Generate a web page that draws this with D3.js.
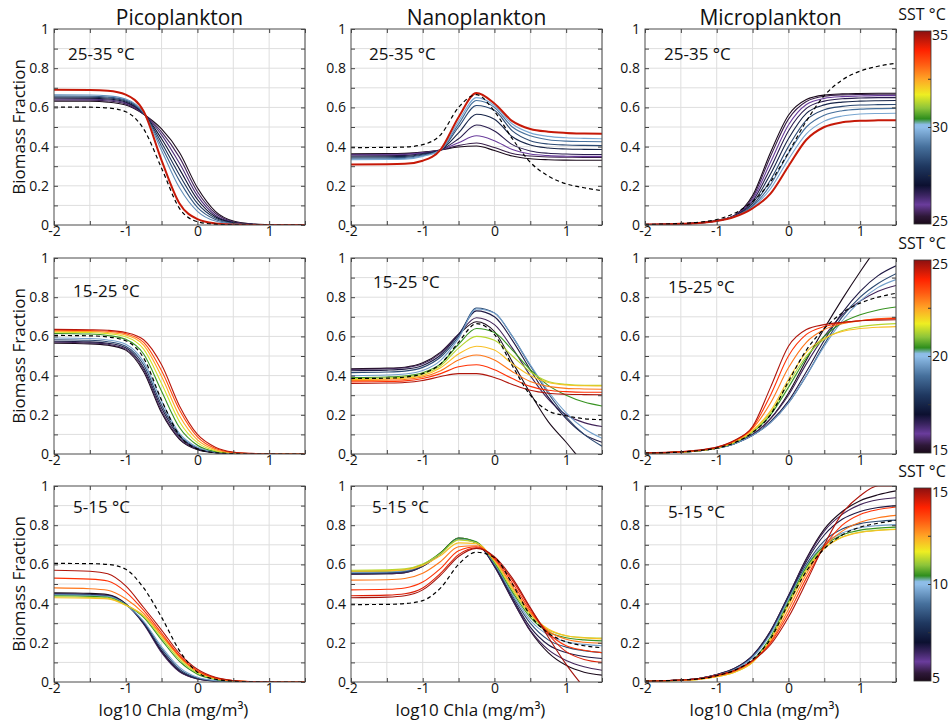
<!DOCTYPE html>
<html>
<head>
<meta charset="utf-8">
<script src="https://cdn.jsdelivr.net/npm/d3@7"></script>
<style>
  body { margin: 0; background: #fff; }
  svg { font-family: "Open Sans", sans-serif; }
</style>
</head>
<body>
<svg id="fig" width="951" height="725"></svg>
<script>
var chlaX = [-2, -1.5, -1.25, -1, -0.75, -0.5, -0.25, 0, 0.25, 0.5, 0.75, 1, 1.25, 1.5];

var groupNames = ["Picoplankton", "Nanoplankton", "Microplankton"];
var sstRanges = [[25, 35], [15, 25], [5, 15]];
var rangeLabels = ["25-35 °C", "15-25 °C", "5-15 °C"];
var yTicks = [0, 0.2, 0.4, 0.6, 0.8, 1];
var xTicks = [-2, -1, 0, 1];

// ---- 25-35 °C ----
var picoWarmSST = [25, 25.6, 26.3, 27, 27.8, 28.6, 29.4, 34.5];
var picoWarmY = [
  [0.632,0.631,0.627,0.612,0.565,0.49,0.37,0.19,0.07,0.02,0.006,0.002,0,0],
  [0.638,0.637,0.633,0.618,0.566,0.475,0.345,0.17,0.06,0.017,0.005,0.001,0,0],
  [0.643,0.642,0.638,0.623,0.567,0.46,0.315,0.15,0.05,0.014,0.004,0.001,0,0],
  [0.648,0.647,0.643,0.628,0.568,0.44,0.285,0.13,0.042,0.012,0.003,0,0,0],
  [0.653,0.652,0.648,0.633,0.569,0.42,0.255,0.11,0.035,0.01,0.002,0,0,0],
  [0.658,0.657,0.653,0.638,0.571,0.4,0.225,0.09,0.028,0.008,0.002,0,0,0],
  [0.664,0.663,0.659,0.643,0.573,0.38,0.19,0.07,0.02,0.006,0.001,0,0,0],
  [0.69,0.689,0.685,0.665,0.58,0.33,0.11,0.03,0.008,0.002,0,0,0,0]
];
var picoWarmRef = [0.602,0.601,0.597,0.578,0.49,0.29,0.085,0.017,0.004,0.001,0,0,0,0];

var nanoWarmSST = [25, 25.5, 26, 26.7, 27.5, 28.3, 29, 29.7, 34.5];
var nanoWarmY = [
  [0.363,0.364,0.366,0.372,0.383,0.398,0.403,0.38,0.352,0.338,0.333,0.331,0.33,0.33],
  [0.36,0.361,0.363,0.37,0.383,0.405,0.418,0.395,0.365,0.352,0.347,0.346,0.345,0.345],
  [0.357,0.358,0.36,0.368,0.383,0.42,0.455,0.43,0.385,0.362,0.354,0.351,0.35,0.35],
  [0.352,0.353,0.355,0.365,0.383,0.44,0.51,0.48,0.41,0.378,0.366,0.362,0.36,0.36],
  [0.347,0.348,0.35,0.361,0.383,0.47,0.565,0.54,0.45,0.408,0.393,0.388,0.386,0.385],
  [0.342,0.343,0.345,0.357,0.383,0.5,0.61,0.585,0.48,0.43,0.413,0.408,0.406,0.405],
  [0.337,0.338,0.34,0.353,0.383,0.515,0.635,0.6,0.5,0.455,0.435,0.428,0.426,0.425],
  [0.333,0.334,0.336,0.35,0.383,0.53,0.65,0.61,0.515,0.47,0.452,0.445,0.442,0.44],
  [0.309,0.31,0.312,0.328,0.385,0.55,0.673,0.62,0.53,0.49,0.476,0.47,0.467,0.465]
];
var nanoWarmRef = [0.395,0.396,0.398,0.41,0.46,0.6,0.665,0.58,0.44,0.32,0.25,0.21,0.19,0.175];

var microWarmSST = [25, 25.5, 26, 26.7, 27.5, 28.3, 29, 29.7, 34.5];
var microWarmY = [
  [0.002,0.006,0.011,0.022,0.05,0.15,0.37,0.56,0.64,0.663,0.669,0.671,0.672,0.672],
  [0.002,0.006,0.011,0.022,0.049,0.14,0.35,0.54,0.63,0.657,0.664,0.666,0.667,0.667],
  [0.002,0.006,0.011,0.022,0.048,0.13,0.32,0.51,0.615,0.646,0.655,0.658,0.66,0.66],
  [0.002,0.006,0.011,0.022,0.047,0.12,0.29,0.48,0.595,0.632,0.644,0.648,0.65,0.65],
  [0.002,0.006,0.011,0.021,0.046,0.11,0.26,0.44,0.57,0.613,0.627,0.632,0.634,0.635],
  [0.002,0.006,0.01,0.021,0.045,0.1,0.23,0.4,0.535,0.588,0.605,0.612,0.614,0.615],
  [0.002,0.006,0.01,0.021,0.044,0.095,0.205,0.365,0.5,0.56,0.583,0.591,0.594,0.595],
  [0.002,0.006,0.01,0.02,0.043,0.09,0.185,0.335,0.465,0.53,0.556,0.566,0.569,0.57],
  [0.002,0.006,0.01,0.02,0.042,0.085,0.16,0.3,0.435,0.5,0.524,0.532,0.534,0.535]
];
var microWarmRef = [0.003,0.008,0.014,0.028,0.06,0.12,0.22,0.37,0.53,0.66,0.74,0.785,0.81,0.825];

// ---- 15-25 °C ----
var picoMidSST = [15, 15.6, 16.8, 18.3, 19.6, 20.5, 21.5, 22.5, 23.5, 24.6];
var picoMidY = [
  [0.565,0.562,0.555,0.53,0.42,0.21,0.075,0.022,0.006,0.002,0,0,0,0],
  [0.57,0.567,0.56,0.535,0.43,0.22,0.08,0.024,0.007,0.002,0,0,0,0],
  [0.575,0.572,0.565,0.542,0.44,0.235,0.088,0.027,0.008,0.002,0,0,0,0],
  [0.583,0.58,0.573,0.55,0.455,0.25,0.095,0.03,0.009,0.003,0,0,0,0],
  [0.592,0.589,0.582,0.56,0.47,0.27,0.105,0.034,0.01,0.003,0.001,0,0,0],
  [0.615,0.612,0.605,0.585,0.51,0.32,0.135,0.045,0.013,0.004,0.001,0,0,0],
  [0.622,0.62,0.614,0.598,0.535,0.36,0.165,0.058,0.017,0.005,0.001,0,0,0],
  [0.627,0.625,0.62,0.607,0.555,0.395,0.195,0.072,0.022,0.006,0.002,0,0,0],
  [0.632,0.63,0.626,0.614,0.57,0.425,0.225,0.088,0.028,0.008,0.002,0,0,0],
  [0.636,0.634,0.631,0.62,0.583,0.455,0.245,0.1,0.035,0.01,0.003,0.001,0,0]
];
var picoMidRef = [0.605,0.603,0.597,0.578,0.49,0.275,0.095,0.026,0.007,0.002,0,0,0,0];

var nanoMidSST = [15, 15.6, 16.8, 18.3, 19.6, 20.5, 21.3, 22.2, 23, 23.8, 24.7];
var nanoMidY = [
  [0.435,0.438,0.443,0.465,0.52,0.61,0.675,0.625,0.47,0.31,0.165,0.06,-0.05,-0.15],
  [0.432,0.435,0.44,0.46,0.515,0.61,0.695,0.66,0.54,0.4,0.28,0.2,0.16,0.14],
  [0.425,0.428,0.433,0.452,0.505,0.61,0.73,0.7,0.58,0.43,0.29,0.18,0.1,0.06],
  [0.415,0.418,0.423,0.442,0.495,0.6,0.745,0.72,0.6,0.45,0.31,0.19,0.1,0.04],
  [0.4,0.403,0.408,0.426,0.478,0.59,0.74,0.72,0.6,0.455,0.32,0.21,0.13,0.08],
  [0.39,0.393,0.398,0.415,0.46,0.56,0.64,0.62,0.53,0.43,0.35,0.3,0.265,0.245],
  [0.385,0.388,0.392,0.408,0.45,0.54,0.6,0.58,0.5,0.42,0.37,0.355,0.35,0.35],
  [0.38,0.383,0.387,0.4,0.44,0.51,0.55,0.53,0.46,0.4,0.365,0.352,0.348,0.347],
  [0.375,0.377,0.38,0.393,0.425,0.48,0.505,0.48,0.42,0.37,0.345,0.335,0.332,0.33],
  [0.368,0.37,0.373,0.385,0.41,0.445,0.455,0.43,0.385,0.345,0.325,0.318,0.315,0.315],
  [0.36,0.362,0.365,0.375,0.395,0.41,0.41,0.39,0.355,0.325,0.31,0.305,0.303,0.302]
];
var nanoMidRef = [0.385,0.387,0.392,0.41,0.46,0.57,0.665,0.61,0.45,0.3,0.22,0.195,0.18,0.175];

var microMidSST = [15, 15.6, 16.8, 18.3, 19.6, 20.5, 21.3, 22.2, 23, 23.8, 24.7];
var microMidY = [
  [0.004,0.01,0.017,0.03,0.055,0.1,0.18,0.31,0.48,0.64,0.79,0.93,1.06,1.18],
  [0.004,0.01,0.017,0.03,0.055,0.1,0.18,0.3,0.46,0.6,0.71,0.78,0.83,0.86],
  [0.004,0.01,0.016,0.029,0.053,0.095,0.165,0.27,0.42,0.58,0.72,0.83,0.91,0.96],
  [0.004,0.01,0.016,0.029,0.053,0.095,0.16,0.26,0.4,0.56,0.7,0.8,0.87,0.92],
  [0.004,0.01,0.016,0.029,0.053,0.095,0.16,0.26,0.4,0.55,0.68,0.78,0.85,0.89],
  [0.004,0.01,0.017,0.03,0.057,0.11,0.2,0.34,0.49,0.6,0.67,0.71,0.735,0.75],
  [0.004,0.01,0.017,0.031,0.06,0.115,0.21,0.36,0.5,0.585,0.63,0.65,0.66,0.665],
  [0.004,0.01,0.017,0.031,0.062,0.12,0.22,0.38,0.52,0.59,0.625,0.64,0.647,0.65],
  [0.005,0.011,0.018,0.033,0.066,0.13,0.26,0.44,0.57,0.635,0.665,0.68,0.69,0.695],
  [0.005,0.011,0.019,0.034,0.068,0.135,0.3,0.5,0.61,0.65,0.67,0.68,0.688,0.692],
  [0.005,0.012,0.02,0.035,0.07,0.14,0.34,0.55,0.635,0.66,0.672,0.68,0.683,0.685]
];
var microMidRef = [0.004,0.01,0.017,0.03,0.058,0.11,0.2,0.37,0.53,0.64,0.72,0.77,0.8,0.82];

// ---- 5-15 °C ----
var picoColdSST = [5, 5.6, 6.8, 8.3, 9.6, 10.5, 11.3, 12.2, 13, 13.8, 14.7];
var picoColdY = [
  [0.455,0.452,0.446,0.4,0.3,0.155,0.055,0.017,0.005,0.001,0,0,0,0],
  [0.45,0.447,0.442,0.397,0.295,0.15,0.052,0.016,0.005,0.001,0,0,0,0],
  [0.45,0.447,0.442,0.397,0.3,0.16,0.058,0.018,0.005,0.001,0,0,0,0],
  [0.447,0.444,0.439,0.396,0.305,0.17,0.065,0.02,0.006,0.002,0,0,0,0],
  [0.445,0.442,0.437,0.395,0.31,0.18,0.075,0.024,0.007,0.002,0,0,0,0],
  [0.44,0.437,0.432,0.394,0.33,0.215,0.105,0.04,0.013,0.004,0.001,0,0,0],
  [0.435,0.432,0.428,0.393,0.335,0.225,0.115,0.046,0.016,0.005,0.001,0,0,0],
  [0.43,0.428,0.424,0.392,0.34,0.235,0.125,0.052,0.018,0.006,0.002,0,0,0],
  [0.48,0.476,0.468,0.425,0.35,0.24,0.13,0.055,0.02,0.006,0.002,0,0,0],
  [0.53,0.525,0.515,0.46,0.365,0.25,0.135,0.058,0.021,0.007,0.002,0,0,0],
  [0.57,0.565,0.552,0.49,0.38,0.265,0.145,0.065,0.024,0.008,0.002,0.001,0,0]
];
var picoColdRef = [0.605,0.604,0.6,0.575,0.48,0.33,0.16,0.05,0.014,0.004,0.001,0,0,0];

var nanoColdSST = [5, 5.6, 6.8, 8.3, 9.6, 10.5, 11.3, 12.2, 13, 13.8, 14.3, 14.8];
var nanoColdY = [
  [0.55,0.552,0.558,0.59,0.66,0.735,0.71,0.59,0.42,0.26,0.15,0.085,0.05,0.035],
  [0.55,0.552,0.558,0.59,0.655,0.73,0.71,0.59,0.42,0.265,0.165,0.11,0.078,0.06],
  [0.555,0.557,0.563,0.593,0.655,0.73,0.71,0.595,0.43,0.28,0.19,0.15,0.13,0.12],
  [0.555,0.557,0.563,0.593,0.655,0.73,0.712,0.6,0.44,0.3,0.215,0.178,0.16,0.15],
  [0.56,0.562,0.568,0.597,0.655,0.73,0.712,0.605,0.45,0.315,0.24,0.205,0.192,0.185],
  [0.565,0.567,0.573,0.6,0.66,0.735,0.715,0.61,0.46,0.33,0.255,0.226,0.215,0.21],
  [0.57,0.572,0.577,0.602,0.655,0.725,0.71,0.615,0.47,0.34,0.265,0.236,0.227,0.224],
  [0.565,0.567,0.572,0.595,0.645,0.71,0.705,0.62,0.48,0.35,0.27,0.236,0.225,0.22],
  [0.52,0.522,0.528,0.555,0.615,0.69,0.695,0.625,0.49,0.355,0.26,0.218,0.203,0.198],
  [0.47,0.473,0.48,0.51,0.58,0.67,0.69,0.63,0.505,0.365,0.25,0.185,0.162,0.15],
  [0.44,0.443,0.45,0.48,0.555,0.65,0.685,0.635,0.52,0.375,0.245,0.155,0.115,0.1],
  [0.43,0.433,0.44,0.47,0.545,0.64,0.682,0.64,0.53,0.38,0.23,0.09,-0.03,-0.15]
];
var nanoColdRef = [0.395,0.396,0.4,0.415,0.48,0.6,0.662,0.635,0.5,0.34,0.25,0.205,0.185,0.175];

var microColdSST = [5, 5.6, 6.8, 8.3, 9.6, 10.5, 11.3, 12.2, 13, 13.8, 14.7];
var microColdY = [
  [0.004,0.01,0.018,0.038,0.07,0.135,0.26,0.44,0.63,0.78,0.87,0.925,0.955,0.975],
  [0.004,0.01,0.018,0.038,0.07,0.135,0.26,0.44,0.625,0.77,0.855,0.905,0.93,0.94],
  [0.004,0.01,0.018,0.037,0.068,0.132,0.255,0.435,0.615,0.75,0.83,0.87,0.89,0.9],
  [0.004,0.01,0.017,0.036,0.066,0.13,0.25,0.43,0.6,0.72,0.78,0.808,0.82,0.826],
  [0.004,0.01,0.017,0.035,0.064,0.125,0.245,0.42,0.59,0.705,0.76,0.787,0.798,0.803],
  [0.003,0.009,0.015,0.03,0.055,0.11,0.23,0.41,0.585,0.695,0.75,0.775,0.785,0.79],
  [0.003,0.008,0.013,0.027,0.05,0.1,0.22,0.4,0.575,0.685,0.74,0.765,0.775,0.78],
  [0.003,0.008,0.013,0.027,0.05,0.1,0.215,0.39,0.565,0.68,0.738,0.763,0.773,0.778],
  [0.003,0.009,0.015,0.03,0.055,0.105,0.205,0.37,0.55,0.69,0.77,0.815,0.838,0.85],
  [0.004,0.01,0.016,0.033,0.058,0.108,0.2,0.35,0.53,0.69,0.8,0.855,0.88,0.893],
  [0.004,0.01,0.017,0.035,0.06,0.11,0.19,0.33,0.51,0.7,0.86,0.95,1.0,1.0]
];
var microColdRef = [0.004,0.01,0.016,0.032,0.06,0.115,0.22,0.4,0.565,0.68,0.75,0.79,0.81,0.825];

// colour map of the SST colour bar (fraction of range -> colour)
var cmapStops = [0, 0.04, 0.1, 0.15, 0.2, 0.3, 0.4, 0.5, 0.515, 0.545, 0.6, 0.67, 0.75, 0.83, 0.9, 1];
var cmapColors = ["#1a0a1a", "#2e1838", "#6a3c9c", "#3a2460", "#0c1030", "#1f3860", "#46709c", "#8ebde8",
                  "#8ebde8", "#2e8e1e", "#8cc43a", "#eeee22", "#ffa526", "#ff5a12", "#ff2200", "#8c1010"];

var panels = [
  [{sst: picoWarmSST, y: picoWarmY, ref: picoWarmRef},
   {sst: nanoWarmSST, y: nanoWarmY, ref: nanoWarmRef},
   {sst: microWarmSST, y: microWarmY, ref: microWarmRef}],
  [{sst: picoMidSST, y: picoMidY, ref: picoMidRef},
   {sst: nanoMidSST, y: nanoMidY, ref: nanoMidRef},
   {sst: microMidSST, y: microMidY, ref: microMidRef}],
  [{sst: picoColdSST, y: picoColdY, ref: picoColdRef},
   {sst: nanoColdSST, y: nanoColdY, ref: nanoColdRef},
   {sst: microColdSST, y: microColdY, ref: microColdRef}]
];

var svg = d3.select("#fig"),
    colLeft = [54, 351, 645],
    rowTop = [29, 258, 486],
    pw = 251, ph = 196,
    labelPos = [[[14, 31], [18, 31], [19, 31]],
                [[19, 39], [22, 30], [23, 35]],
                [[19, 27], [21, 27], [23, 32]]];

var x = d3.scaleLinear().domain([-2, 1.5]).range([0, pw]);
var y = d3.scaleLinear().domain([0, 1]).range([ph, 0]);
var cmap = d3.scaleLinear().domain(cmapStops).range(cmapColors).interpolate(d3.interpolateRgb).clamp(true);

var line = d3.line()
    .x(function(d, i) { return x(chlaX[i]); })
    .y(function(d) { return y(d); })
    .curve(d3.curveMonotoneX);

var fmtY = function(d) { var v = Math.round(d * 10); return v % 2 ? "" : (v === 0 ? "0" : v === 10 ? "1" : (v / 10).toFixed(1)); };
var fmtX = function(d) { return Number.isInteger(d) ? String(d) : ""; };
var gridY = d3.range(0, 11).map(function(i) { return i / 10; });
var gridX = d3.range(0, 8).map(function(i) { return -2 + i / 2; });

var defs = svg.append("defs");
var grad = defs.append("linearGradient").attr("id", "cbar")
    .attr("x1", 0).attr("y1", 1).attr("x2", 0).attr("y2", 0);
cmapStops.forEach(function(s, i) {
  grad.append("stop").attr("offset", s).attr("stop-color", cmapColors[i]);
});

panels.forEach(function(row, r) {
  row.forEach(function(p, c) {
    var g = svg.append("g").attr("transform", "translate(" + colLeft[c] + "," + rowTop[r] + ")");
    var clipId = "clip" + r + c;
    defs.append("clipPath").attr("id", clipId)
      .append("rect").attr("width", pw).attr("height", ph);

    // grid
    g.append("g").selectAll("line").data(gridX.slice(1)).enter().append("line")
      .attr("x1", x).attr("x2", x).attr("y1", 0).attr("y2", ph)
      .attr("stroke", "#dedede").attr("stroke-width", 1);
    g.append("g").selectAll("line").data(gridY.slice(1, 10)).enter().append("line")
      .attr("y1", y).attr("y2", y).attr("x1", 0).attr("x2", pw)
      .attr("stroke", "#dedede").attr("stroke-width", 1);

    // curves, coldest first so the warmest ends on top
    var lo = sstRanges[r][0], hi = sstRanges[r][1];
    var curves = g.append("g").attr("clip-path", "url(#" + clipId + ")");
    p.y.forEach(function(vals, k) {
      curves.append("path")
        .attr("d", line(vals))
        .attr("fill", "none")
        .attr("stroke", cmap((p.sst[k] - lo) / (hi - lo)))
        .attr("stroke-width", (r === 0 && k === p.y.length - 1) ? 2 : 1.1);
    });
    curves.append("path")
      .attr("d", line(p.ref))
      .attr("fill", "none")
      .attr("stroke", "#000")
      .attr("stroke-width", 1.2)
      .attr("stroke-dasharray", "4,3");

    // axes with inward ticks on all sides
    var axL = g.append("g").call(d3.axisLeft(y).tickValues(gridY).tickSize(-4).tickPadding(5).tickFormat(fmtY));
    var axR = g.append("g").attr("transform", "translate(" + pw + ",0)")
      .call(d3.axisRight(y).tickValues(gridY).tickSize(-4).tickFormat(""));
    var axB = g.append("g").attr("transform", "translate(0," + ph + ")")
      .call(d3.axisBottom(x).tickValues(gridX).tickSize(-4).tickPadding(1).tickFormat(fmtX));
    var axT = g.append("g").call(d3.axisTop(x).tickValues(gridX).tickSize(-4).tickFormat(""));
    [axL, axR, axB, axT].forEach(function(a) {
      a.select(".domain").remove();
      a.selectAll("line").attr("stroke", "#444");
      a.selectAll("text").attr("font-size", 14).attr("font-family", "Open Sans").attr("fill", "#111");
    });

    g.append("rect").attr("width", pw).attr("height", ph)
      .attr("fill", "none").attr("stroke", "#4a4a4a").attr("stroke-width", 1);

    g.append("text")
      .attr("x", labelPos[r][c][0]).attr("y", labelPos[r][c][1])
      .attr("font-size", 17).attr("fill", "#111")
      .text(rangeLabels[r]);
  });

  // y label for the row
  svg.append("text")
    .attr("transform", "translate(25," + (rowTop[r] + ph / 2) + ") rotate(-90)")
    .attr("text-anchor", "middle").attr("font-size", 17).attr("fill", "#111")
    .text("Biomass Fraction");

  // colour bar
  var cb = svg.append("g").attr("transform", "translate(914," + (rowTop[r] + 2) + ")");
  var cbH = ph - 3, cbW = 17;
  cb.append("rect").attr("width", cbW).attr("height", cbH)
    .attr("fill", "url(#cbar)").attr("stroke", "#333").attr("stroke-width", 0.8);
  var cs = d3.scaleLinear().domain(sstRanges[r]).range([cbH, 0]);
  var mid = (sstRanges[r][0] + sstRanges[r][1]) / 2;
  cb.selectAll(".tk").data([sstRanges[r][0] + 2.5, mid, sstRanges[r][1] - 2.5]).enter().append("line")
    .attr("x1", cbW - 3).attr("x2", cbW).attr("y1", cs).attr("y2", cs)
    .attr("stroke", "#333");
  cb.selectAll(".lb").data([sstRanges[r][0], mid, sstRanges[r][1]]).enter().append("text")
    .attr("x", cbW + 1)
    .attr("y", function(d) { return cs(d) + (d === sstRanges[r][1] ? 4 : d === sstRanges[r][0] ? -3 : 0); })
    .attr("dy", "0.35em")
    .attr("font-size", 14).attr("fill", "#111")
    .text(function(d) { return d; });
  svg.append("text")
    .attr("x", 922).attr("y", rowTop[r] - 9)
    .attr("text-anchor", "middle").attr("font-size", 16).attr("fill", "#111")
    .text("SST °C");
});

// column titles and x labels
groupNames.forEach(function(name, c) {
  svg.append("text")
    .attr("x", colLeft[c] + pw / 2).attr("y", 25)
    .attr("text-anchor", "middle").attr("font-size", 21).attr("fill", "#111")
    .text(name);
  svg.append("text")
    .attr("x", colLeft[c] + pw / 2 - 6).attr("y", 716)
    .attr("text-anchor", "middle").attr("font-size", 17).attr("fill", "#111")
    .text("log10 Chla (mg/m³)");
});
</script>
</body>
</html>
